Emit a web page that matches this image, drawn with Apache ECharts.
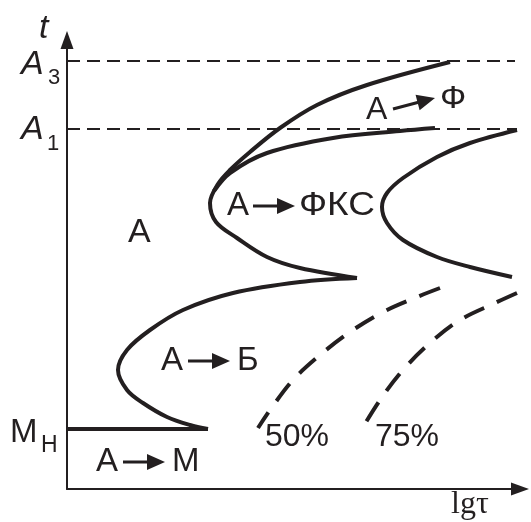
<!DOCTYPE html>
<html>
<head>
<meta charset="utf-8">
<script src="https://cdn.jsdelivr.net/npm/echarts@6/dist/echarts.min.js"></script>
<style>
  html, body { margin: 0; padding: 0; background: #fff; }
  #chart { width: 531px; height: 522px; }
</style>
</head>
<body>
<div id="chart"></div>
<script>
// Critical temperatures on the t axis (relative units)
const tA3 = 428;
const tA1 = 360;
const tMs = 60;

// Isothermal transformation curves, points as [lgτ, t]
const ferriteStart = [[383,427],[300,404],[250,384],[213,361],[183,337],[163,319],[151,305],[143,286],[149,267],[170,251],[200,232],[233,221],[290,211]];
const pearliteStart = [[147,298],[163,316],[200,336],[266,351],[333,358],[368,361]];
const pearliteFinish = [[450,359],[403,346],[370,332],[336,311],[320,296],[315,282],[320,266],[336,249],[370,232],[403,222],[445,212]];
const bainiteStart = [[290,211],[233,207],[166,196],[116,179],[83,159],[60,139],[51,119],[60,99],[76,86],[100,72],[123,64],[141,60]];
const bainite50 = [[373,201],[350,192],[316,177],[283,157],[253,134],[226,109],[203,79],[191,61]];
const bainite75 = [[450,196],[428,186],[393,169],[363,146],[336,119],[313,89],[293,57]];
const msLine = [[0,tMs],[141,tMs]];
const a3Line = [[0,tA3],[448,tA3]];
const a1Line = [[0,tA1],[450,tA1]];

const INK = '#231f20';
const SANS = '"Liberation Sans", Arial, sans-serif';

const chart = echarts.init(document.getElementById('chart'), null, { renderer: 'canvas' });

function curve(data, extra) {
  return Object.assign({
    type: 'line',
    data: data,
    showSymbol: false,
    smooth: 0.35,
    silent: true,
    lineStyle: { color: INK, width: 4, cap: 'butt', join: 'round' },
    z: 3
  }, extra || {});
}

chart.setOption({
  animation: false,
  grid: { left: 67, right: 11, top: 40, bottom: 33 },
  xAxis: {
    type: 'value', min: 0, max: 453,
    axisLine: { show: true, symbol: ['none', 'triangle'], symbolSize: [13, 18], lineStyle: { color: INK, width: 2 } },
    axisTick: { show: false }, axisLabel: { show: false }, splitLine: { show: false }
  },
  yAxis: {
    type: 'value', min: 0, max: 449,
    axisLine: { show: true, symbol: ['none', 'triangle'], symbolSize: [13, 18], lineStyle: { color: INK, width: 2 } },
    axisTick: { show: false }, axisLabel: { show: false }, splitLine: { show: false }
  },
  series: [
    curve(a3Line, { smooth: false, lineStyle: { color: INK, width: 2, type: [13, 7] }, z: 2 }),
    curve(a1Line, { smooth: false, lineStyle: { color: INK, width: 2, type: [13, 7] }, z: 2 }),
    curve(ferriteStart),
    curve(pearliteStart),
    curve(pearliteFinish),
    curve(bainiteStart),
    curve(msLine, { smooth: false }),
    curve(bainite50, { lineStyle: { color: INK, width: 4, type: [22, 14], cap: 'butt' } }),
    curve(bainite75, { lineStyle: { color: INK, width: 4, type: [22, 14], cap: 'butt' } })
  ]
});

function label(text, x, y, size, extra, scaleX) {
  return {
    type: 'text', x: x, y: y, silent: true, z: 10, scaleX: scaleX || 1,
    style: Object.assign({
      text: text, fill: INK, font: size + 'px ' + SANS,
      align: 'left', verticalAlign: 'middle'
    }, extra || {})
  };
}

// Filled arrow from (x0,y0) to the tip (x1,y1)
function arrow(x0, y0, x1, y1) {
  const len = Math.hypot(x1 - x0, y1 - y0);
  const head = 18, hw = 8, sw = 1.6;
  const local = [[0, -sw], [len - head, -sw], [len - head, -hw], [len, 0], [len - head, hw], [len - head, sw], [0, sw]];
  return {
    type: 'polygon', x: x0, y: y0, rotation: -Math.atan2(y1 - y0, x1 - x0), silent: true, z: 10,
    shape: { points: local }, style: { fill: INK }
  };
}

const yA3 = chart.convertToPixel({ gridIndex: 0 }, [0, tA3])[1];
const yA1 = chart.convertToPixel({ gridIndex: 0 }, [0, tA1])[1];
const yMs = chart.convertToPixel({ gridIndex: 0 }, [0, tMs])[1];

const italic = { font: 'italic 34px ' + SANS };

chart.setOption({
  graphic: [
    label('t', 39, 29, 34, italic),
    label('A', 21, yA3 + 4, 34, italic),
    label('3', 48, yA3 + 17, 22),
    label('A', 21, yA1 + 1, 34, italic),
    label('1', 47, yA1 + 15, 22),
    label('М', 10, yMs + 4, 33),
    label('Н', 41, yMs + 17, 23),

    label('А', 128, 233, 34),

    label('А', 227, 206, 33),
    arrow(253, 206, 295, 206),
    label('ФКС', 299, 206, 33, null, 1.12),

    label('А', 366, 110, 32),
    arrow(393, 109, 435, 98),
    label('Ф', 440, 99, 32, null, 1.08),

    label('А', 161, 361, 33),
    arrow(188, 361, 230, 361),
    label('Б', 237, 361, 33),

    label('А', 96, 462, 33),
    arrow(123, 462, 165, 462),
    label('М', 172, 462, 33),

    label('50%', 265, 437, 32),
    label('75%', 375, 437, 32),

    label('lgτ', 451, 505, 32, { font: '32px "Liberation Serif", "Times New Roman", serif' })
  ]
});
</script>
</body>
</html>
